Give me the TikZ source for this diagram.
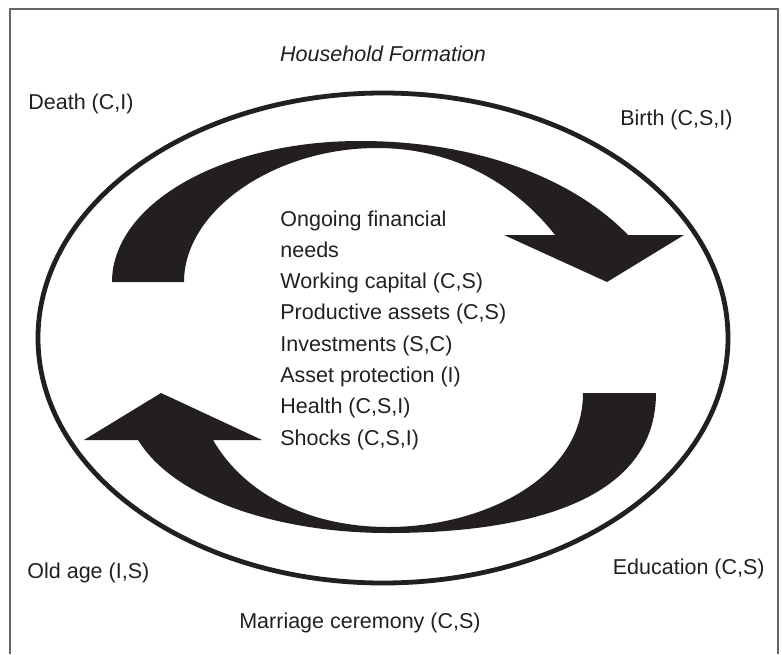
\documentclass[tikz,border=0pt]{standalone}
\usepackage{fontspec}
\setmainfont{Liberation Sans}
\usepackage{tikz}
\usetikzlibrary{positioning}
\definecolor{ink}{RGB}{35,31,32}
\colorlet{framegray}{gray!80!black}

\begin{document}
\begin{tikzpicture}[x=0.5pt, y=-0.5pt, node distance=15.65pt,
	txt/.style={inner sep=0pt, text=ink, font=\fontsize{10.75}{13}\selectfont},
	stage/.style={txt},
	need/.style={txt, anchor=base west},
	cycle arrow/.style={fill=ink}]
	\useasboundingbox (0,0) rectangle (782,654);
	
	% FRAME (open at the bottom)
	\draw[framegray, line width=0.75pt] (10,654) -- (10,9) -- (778,9) -- (778,654);
	
	% LIFE CYCLE
	\draw[ink, line width=2.4pt] (383,338) ellipse (345 and 245);
	
	% upper arrow, pointing to the right
	\fill[cycle arrow] (112,282) .. controls (112,205) and (220,141) .. (360,141)
		.. controls (480,141) and (575,180) .. (628,235)
		-- (684,235) -- (607,282) -- (504,235) -- (555,235)
		.. controls (520,190) and (460,148) .. (377,148)
		.. controls (275,148) and (184,210) .. (184,282) -- cycle;
	
	% lower arrow, pointing to the left
	\fill[cycle arrow] (656,393) .. controls (656,500) and (530,533) .. (388,533)
		.. controls (280,533) and (175,500) .. (138,440)
		-- (84,440) -- (161,393) -- (262,440) -- (213,440)
		.. controls (245,495) and (310,527) .. (388,527)
		.. controls (480,527) and (583,480) .. (583,393) -- cycle;
	
	% STAGES
	\node[stage] (formation) at (383,54) {\itshape Household Formation};
	\node[stage, anchor=west] (death) at (28,104) {Death (C,I)};
	\node[stage, anchor=east] (birth) at (733,120) {Birth (C,S,I)};
	\node[stage, anchor=west] (oldage) at (27,573) {Old age (I,S)};
	\node[stage, anchor=east] (education) at (765,569) {Education (C,S)};
	\node[stage] (marriage) at (360,623) {Marriage ceremony (C,S)};
	
	% NEEDS
	\node[need] (ongoing) at (280,226) {Ongoing financial};
	\node[need, below=of ongoing.base west, anchor=base west] (needs) {needs};
	\node[need, below=of needs.base west, anchor=base west] (capital) {Working capital (C,S)};
	\node[need, below=of capital.base west, anchor=base west] (assets) {Productive assets (C,S)};
	\node[need, below=of assets.base west, anchor=base west] (invest) {Investments (S,C)};
	\node[need, below=of invest.base west, anchor=base west] (protect) {Asset protection (I)};
	\node[need, below=of protect.base west, anchor=base west] (health) {Health (C,S,I)};
	\node[need, below=of health.base west, anchor=base west] (shocks) {Shocks (C,S,I)};
	
\end{tikzpicture}
\end{document}
